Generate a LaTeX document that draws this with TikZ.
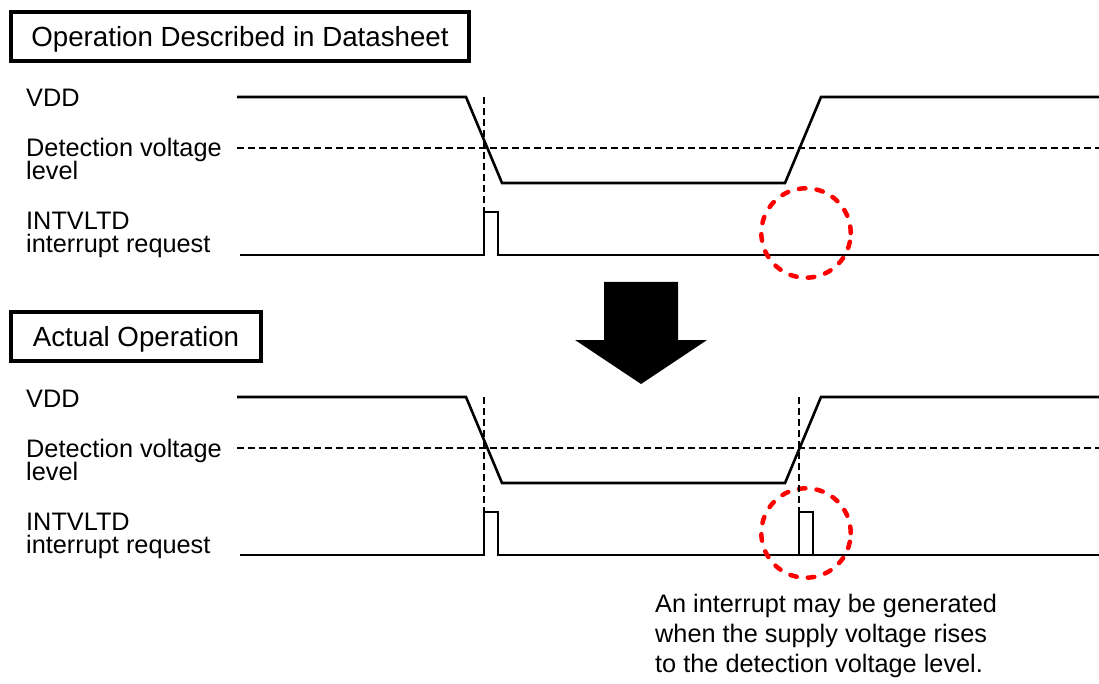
\documentclass[tikz,border=0pt]{standalone}
\usepackage{fontspec}
\setmainfont{Liberation Sans}
\begin{document}
\begin{tikzpicture}[x=1pt,y=-1pt,
  sig/.style={line width=2.6pt,line join=miter},
  guide/.style={line width=1.6pt,dash pattern=on 7pt off 4pt},
  ring/.style={red,line width=4.5pt,dash pattern=on 6.5pt off 11.2pt,line cap=round},
  lbl/.style={anchor=base west,inner sep=0pt,font=\fontsize{25.3}{30}\selectfont},
  titlebox/.style={draw,line width=4pt,inner sep=0pt,text height=20pt,text depth=0pt,
    font=\fontsize{27.7}{32}\selectfont}]
\useasboundingbox (0,0) rectangle (1099,684);

% Title boxes
\node[titlebox,minimum width=458pt,minimum height=49pt] (hdrA) at (240,36.5) {Operation Described in Datasheet};
\node[titlebox,minimum width=250pt,minimum height=49pt] (hdrB) at (136,336.5) {Actual Operation};

% Both timing charts
\foreach \oy/\tag in {0/A,300/B} {
  \begin{scope}[yshift=-\oy pt]
    \node[lbl] (vdd\tag) at (26,107) {VDD};
    \node[lbl] (det\tag) at (26,157) {Detection voltage};
    \node[lbl] (lev\tag) at (26,180) {level};
    \node[lbl] (int\tag) at (26,230) {INTVLTD};
    \node[lbl] (req\tag) at (26,253) {interrupt request};
    % VDD waveform
    \draw[sig] (237,97) -- (466,97) -- (502,183) -- (785,183) -- (821,97) -- (1099,97);
    % detection level
    \draw[guide] (237,148) -- (1099,148);
    \draw[guide] (484,97) -- (484,212);
    % interrupt request
    \draw[sig] (240,255) -- (484,255) -- (484,212) -- (498,212) -- (498,255) -- (1099,255);
    \draw[ring] (806,233) circle (44.7pt);
  \end{scope}
}

% Extra pulse on rising edge
\draw[guide] (799,397) -- (799,512);
\draw[sig] (792,555) -- (799,555) -- (799,512) -- (813,512) -- (813,555) -- (820,555);

% Big arrow
\fill (604,282) -- (678,282) -- (678,340) -- (707,340) -- (641,384) -- (575,340) -- (604,340) -- cycle;

% Note
\node[lbl] (note1) at (655,612) {An interrupt may be generated};
\node[lbl] (note2) at (655,642) {when the supply voltage rises};
\node[lbl] (note3) at (655,672) {to the detection voltage level.};
\end{tikzpicture}
\end{document}
